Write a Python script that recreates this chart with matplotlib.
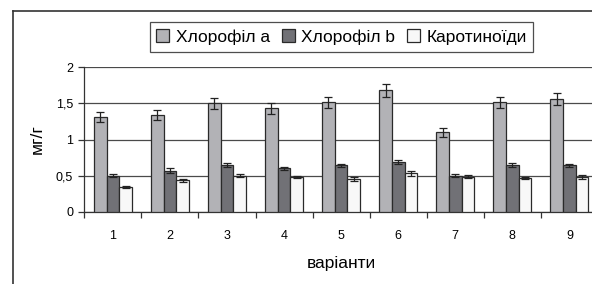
import numpy as np
import matplotlib.pyplot as plt
from matplotlib.lines import Line2D

plt.rcParams['font.family'] = ['Liberation Sans', 'DejaVu Sans']

# data
variants = ['1', '2', '3', '4', '5', '6', '7', '8', '9']
chl_a = [1.31, 1.335, 1.50, 1.43, 1.515, 1.68, 1.10, 1.515, 1.56]
chl_a_err = [0.07, 0.07, 0.08, 0.07, 0.08, 0.085, 0.06, 0.08, 0.08]
chl_b = [0.50, 0.57, 0.65, 0.60, 0.64, 0.69, 0.50, 0.65, 0.64]
chl_b_err = [0.02, 0.03, 0.03, 0.02, 0.025, 0.03, 0.02, 0.03, 0.025]
carot = [0.34, 0.435, 0.50, 0.48, 0.45, 0.53, 0.485, 0.47, 0.48]
carot_err = [0.01, 0.02, 0.02, 0.02, 0.025, 0.03, 0.02, 0.015, 0.025]
series_names = ['Хлорофіл а', 'Хлорофіл b', 'Каротиноїди']
y_ticks = [0, 0.5, 1, 1.5, 2]
y_tick_labels = ['0', '0,5', '1', '1,5', '2']

colors = ['#b2b2b6', '#717176', '#f8f8f8']

fig = plt.figure(figsize=(5.92, 2.84), dpi=100)
ax = fig.add_axes([84.3 / 592, 1 - 211.7 / 284, (598 - 84.3) / 592, (211.7 - 67.3) / 284])

x = np.arange(1, len(variants) + 1)
w = 0.222
for i, (vals, errs) in enumerate([(chl_a, chl_a_err), (chl_b, chl_b_err), (carot, carot_err)]):
    ax.bar(x + (i - 1) * w, vals, width=w, color=colors[i], edgecolor='#2a2a2a',
           linewidth=0.9, yerr=errs, capsize=3,
           error_kw=dict(ecolor='#222222', elinewidth=0.9, capthick=0.9),
           label=series_names[i], zorder=3)

ax.set_ylim(0, 2)
ax.set_xlim(0.5, len(variants) + 0.5)
ax.set_yticks(y_ticks)
ax.set_yticklabels(y_tick_labels, fontsize=9)
ax.yaxis.grid(True, color='#4a4a4a', linewidth=0.9, zorder=0)
ax.set_axisbelow(True)

ax.set_xticks(x)
ax.set_xticklabels(variants, fontsize=9)
ax.set_xticks(np.arange(0.5, len(variants) + 1, 1), minor=True)
ax.tick_params(axis='x', which='major', length=0, pad=13)
ax.tick_params(axis='x', which='minor', length=4, width=0.9, color='#333333', direction='out')
ax.tick_params(axis='y', length=4, width=0.9, color='#333333', pad=4)

for s in ['top', 'right']:
    ax.spines[s].set_visible(False)
for s in ['left', 'bottom']:
    ax.spines[s].set_color('#333333')
    ax.spines[s].set_linewidth(0.9)

ax.set_xlabel('варіанти', fontsize=12.5, labelpad=10)
ax.set_ylabel('мг/г', fontsize=12.5, labelpad=8)

leg = fig.legend(loc='center', bbox_to_anchor=(341.5 / 592, 1 - 37 / 284), ncol=3,
                 fontsize=12.5, frameon=True, fancybox=False, edgecolor='#222222',
                 handlelength=0.75, handleheight=0.75, handletextpad=0.35,
                 columnspacing=0.7, borderpad=0.4)
leg.get_frame().set_linewidth(0.9)

# outer chart frame (top and left edges visible in the crop)
fig.add_artist(Line2D([13 / 592, 1], [1 - 10.5 / 284, 1 - 10.5 / 284],
                      transform=fig.transFigure, color='#333333', linewidth=1.2))
fig.add_artist(Line2D([13 / 592, 13 / 592], [0, 1 - 10.5 / 284],
                      transform=fig.transFigure, color='#333333', linewidth=1.2))

fig.savefig('out.png', dpi=100)
